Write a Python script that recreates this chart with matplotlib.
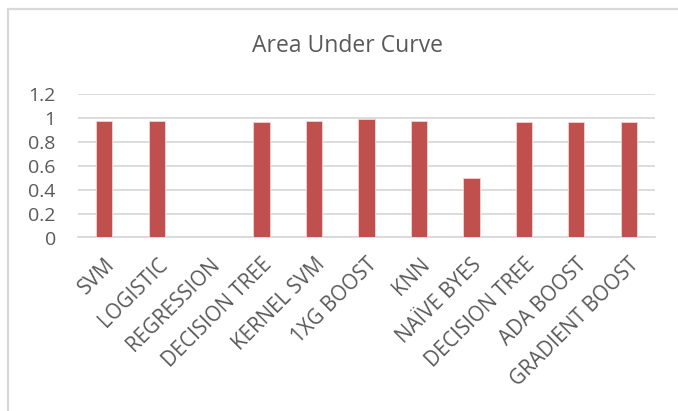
import matplotlib
matplotlib.use('Agg')
import matplotlib.pyplot as plt
from matplotlib.patches import Rectangle
import numpy as np

categories = ['SVM', 'LOGISTIC', 'REGRESSION', 'DECISION TREE', 'KERNEL SVM',
              '1XG BOOST', 'KNN', 'NAÏVE BYES', 'DECISION TREE', 'ADA BOOST',
              'GRADIENT BOOST']
auc = [0.98, 0.98, 0, 0.97, 0.98, 0.99, 0.975, 0.5, 0.97, 0.97, 0.972]
yticks = [0, 0.2, 0.4, 0.6, 0.8, 1, 1.2]
ytick_labels = ['0', '0.2', '0.4', '0.6', '0.8', '1', '1.2']

plt.rcParams['font.family'] = ['Open Sans', 'DejaVu Sans']
text_color = '#595959'
grid_color = '#d9d9d9'

fig = plt.figure(figsize=(6.78, 4.11), dpi=100)
fig.patch.set_facecolor('white')

# chart frame (cut off at right and bottom, like the screenshot)
fig.patches.append(Rectangle((8 / 678, -0.2), 1.2, 0.2 + 1 - 9 / 411,
                             transform=fig.transFigure, fill=False,
                             edgecolor=grid_color, linewidth=1.6))

ax = fig.add_axes([78 / 678, 1 - 237.5 / 411, 577 / 678, 143.2 / 411])
ind = np.arange(len(categories))
ax.bar(ind, auc, width=0.31, color='#c0504d', edgecolor='#f2d4d3',
       linewidth=0.6, zorder=3)

ax.set_xlim(-0.5, len(categories) - 0.5)
ax.set_ylim(0, 1.2)
ax.set_yticks(yticks)
ax.set_yticklabels(ytick_labels)
ax.yaxis.grid(True, color=grid_color, linewidth=1.3, zorder=0)
ax.set_axisbelow(True)
for s in ['top', 'right', 'left']:
    ax.spines[s].set_visible(False)
ax.spines['bottom'].set_color(grid_color)
ax.spines['bottom'].set_linewidth(1.3)
ax.tick_params(axis='both', length=0, colors=text_color)
ax.tick_params(axis='y', pad=16, labelsize=14)
ax.set_xticks(ind)
ax.set_xticklabels(categories, rotation=45, ha='right', rotation_mode='anchor')
ax.tick_params(axis='x', pad=12, labelsize=14.8)

fig.text(347 / 678, 1 - 46 / 411, 'Area Under Curve', ha='center', va='center',
         fontsize=16.5, color=text_color)

plt.savefig('out.png', dpi=100)
